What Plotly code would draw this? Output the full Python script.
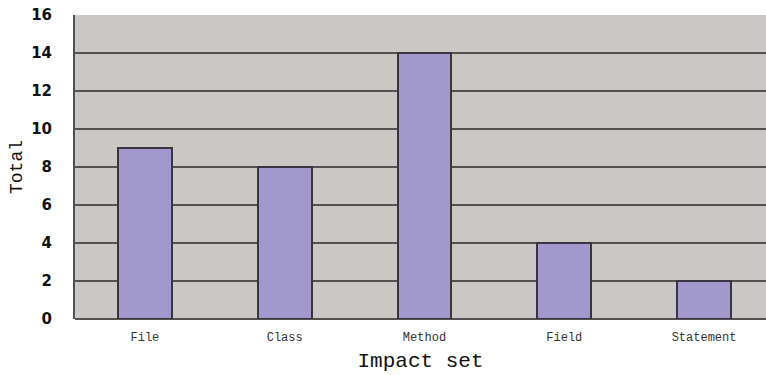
import plotly.graph_objects as go

categories = ["File", "Class", "Method", "Field", "Statement"]
totals = [9, 8, 14, 4, 2]
y_ticks = [0, 2, 4, 6, 8, 10, 12, 14, 16]

fig = go.Figure(
    go.Bar(
        x=categories,
        y=totals,
        width=0.386,
        marker=dict(color="#a199cb", line=dict(color="#3a3440", width=2)),
    )
)

fig.update_layout(
    width=766,
    height=375,
    margin=dict(l=75, r=0, t=15, b=56),
    paper_bgcolor="white",
    plot_bgcolor="#cbc7c4",
    showlegend=False,
    bargap=0,
)

fig.update_xaxes(
    range=[-0.5, 4.443],
    showgrid=False,
    showline=False,
    ticks="",
    tickfont=dict(family="Liberation Mono", size=12, color="#333333"),
    ticklabelstandoff=9,
    title=dict(
        text="Impact set",
        font=dict(family="Liberation Mono", size=21, color="#111111"),
        standoff=8,
    ),
)

fig.update_yaxes(
    range=[0, 16],
    tickvals=y_ticks,
    showgrid=True,
    gridcolor="#555050",
    gridwidth=2,
    zeroline=True,
    zerolinecolor="#555050",
    zerolinewidth=2,
    showline=True,
    linecolor="#555050",
    linewidth=2,
    ticks="",
    tickfont=dict(family="DejaVu Sans", size=15, color="#111111", weight="bold"),
    ticklabelstandoff=18,
    title=dict(
        text="Total",
        font=dict(family="Liberation Mono", size=18, color="#111111"),
        standoff=4,
    ),
)

fig.write_html("out.html")
